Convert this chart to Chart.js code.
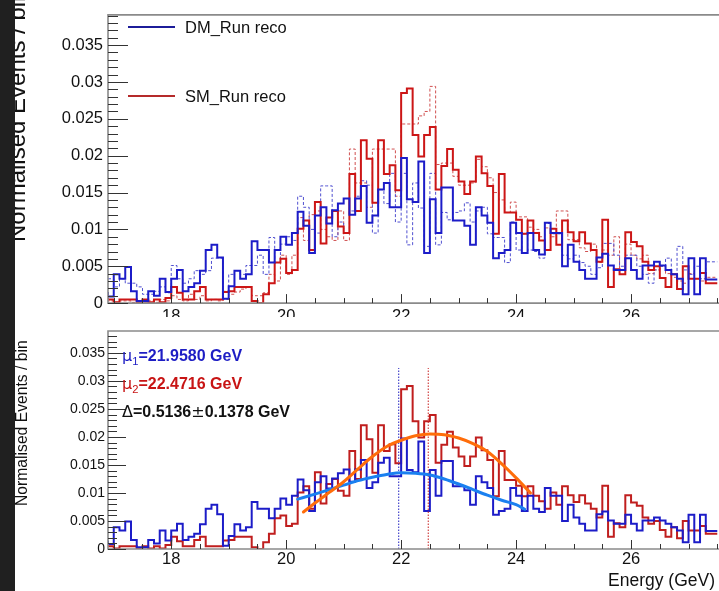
<!DOCTYPE html>
<html>
<head>
<meta charset="utf-8">
<script src="https://cdn.jsdelivr.net/npm/chart.js@4.4.1/dist/chart.umd.min.js"></script>
<style>
  html, body { margin: 0; padding: 0; background: #fff; overflow: hidden; }
  body { width: 719px; height: 591px; position: relative; font-family: "Liberation Sans", Arial, sans-serif; }
  canvas { position: absolute; left: 0; }
  #topChart { top: 0; }
  #bottomChart { top: 318px; }
  .txt { position: absolute; white-space: nowrap; line-height: 1; }
  .ytitle { position: absolute; white-space: nowrap; line-height: 1; transform-origin: left top; transform: rotate(-90deg); color: #111; }
  .legline { position: absolute; height: 2px; }
  .strip { position: absolute; left: 0; top: 0; width: 15px; height: 591px; background: #202020; }
  sub { font-size: 0.7em; font-weight: normal; vertical-align: -0.35em; }
  .mu { font-weight: normal; font-family: "DejaVu Sans", sans-serif; }
</style>
</head>
<body>
<canvas id="topChart" width="719" height="318"></canvas>
<canvas id="bottomChart" width="719" height="273"></canvas>

<div class="ytitle" style="left:5px; top:242px; font-size:24px;">Normalised Events / bin</div>
<div class="ytitle" style="left:14px; top:506px; font-size:15.7px;">Normalised Events / bin</div>
<div class="strip"></div>

<div class="legline" style="left:128px; top:26px; width:47px; background:#1c1c99;"></div>
<div class="txt" style="left:185px; top:19px; font-size:16.5px; color:#111;">DM_Run reco</div>
<div class="legline" style="left:128px; top:95px; width:47px; background:#b52a2a;"></div>
<div class="txt" style="left:185px; top:88px; font-size:16.5px; color:#111;">SM_Run reco</div>

<div class="txt" style="left:122px; top:348px; font-size:16px; font-weight:bold; color:#1d1dc4;"><span class="mu">μ</span><sub>1</sub>=21.9580 GeV</div>
<div class="txt" style="left:122px; top:376px; font-size:16px; font-weight:bold; color:#c81414;"><span class="mu">μ</span><sub>2</sub>=22.4716 GeV</div>
<div class="txt" style="left:122px; top:404px; font-size:16px; font-weight:bold; color:#111;"><span class="mu">Δ</span>=0.5136<span class="mu">±</span>0.1378 GeV</div>
<div class="txt" style="right:4px; top:572px; font-size:17.5px; color:#111;">Energy (GeV)</div>

<script>
// Histogram binning (GeV)
const BIN_LOW = 16.9;
const BIN_WIDTH = 0.1;

// Axis ticks
const X_TICKS = [18, 20, 22, 24, 26];
const Y_TICKS = [0, 0.005, 0.01, 0.015, 0.02, 0.025, 0.03, 0.035];

// DM_Run reco (solid blue), one value per 0.1 GeV bin from 16.9 GeV
const DM_RECO = [
  0.0015, 0.0009, 0.0039, 0.0033, 0.0049, 0.0016, 0.0003, 0.0003, 0.0016, 0.0010,
  0.0033, 0.0015, 0.0033, 0.0045, 0.0016, 0.0022, 0.0027, 0.0044, 0.0072, 0.0079,
  0.0062, 0.0006, 0.0023, 0.0044, 0.0033, 0.0039, 0.0084, 0.0072, 0.0072, 0.0055,
  0.0072, 0.0090, 0.0079, 0.0095, 0.0124, 0.0105, 0.0068, 0.0119, 0.0130, 0.0108,
  0.0126, 0.0135, 0.0142, 0.0120, 0.0142, 0.0159, 0.0109, 0.0119, 0.0154, 0.0163,
  0.0130, 0.0130, 0.0197, 0.0141, 0.0137, 0.0192, 0.0068, 0.0141, 0.0095, 0.0157,
  0.0157, 0.0112, 0.0112, 0.0105, 0.0079, 0.0130, 0.0119, 0.0109, 0.0061, 0.0068,
  0.0072, 0.0109, 0.0095, 0.0068, 0.0095, 0.0072, 0.0066, 0.0109, 0.0095, 0.0095,
  0.0050, 0.0079, 0.0056, 0.0045, 0.0033, 0.0033, 0.0062, 0.0067, 0.0051, 0.0045,
  0.0045, 0.0061, 0.0045, 0.0033, 0.0051, 0.0051, 0.0056, 0.0051, 0.0045, 0.0039,
  0.0033, 0.0012, 0.0061, 0.0012, 0.0061, 0.0032
];

// SM_Run reco (solid red)
const SM_RECO = [
  0.0010, 0.0005, 0.0001, 0.0005, 0.0005, 0.0005, 0.0001, 0.0005, 0.0001, 0.0005,
  0.0001, 0.0007, 0.0022, 0.0014, 0.0005, 0.0005, 0.0016, 0.0022, 0.0005, 0.0005,
  0.0005, 0.0015, 0.0016, 0.0022, 0.0022, 0.0022, 0.0003, 0.0000, 0.0012, 0.0027,
  0.0055, 0.0060, 0.0041, 0.0045, 0.0101, 0.0112, 0.0072, 0.0137, 0.0081, 0.0116,
  0.0125, 0.0104, 0.0095, 0.0175, 0.0125, 0.0221, 0.0196, 0.0136, 0.0221, 0.0175,
  0.0187, 0.0153, 0.0285, 0.0291, 0.0228, 0.0199, 0.0228, 0.0239, 0.0154, 0.0186,
  0.0209, 0.0181, 0.0165, 0.0148, 0.0165, 0.0199, 0.0176, 0.0159, 0.0094, 0.0175,
  0.0123, 0.0123, 0.0113, 0.0094, 0.0112, 0.0095, 0.0085, 0.0072, 0.0101, 0.0079,
  0.0112, 0.0096, 0.0084, 0.0096, 0.0081, 0.0072, 0.0056, 0.0113, 0.0022, 0.0046,
  0.0039, 0.0096, 0.0083, 0.0077, 0.0056, 0.0045, 0.0050, 0.0034, 0.0022, 0.0039,
  0.0019, 0.0050, 0.0033, 0.0033, 0.0041, 0.0027
];

// DM (dashed blue)
const DM_DASHED = [
  0.0033, 0.0033, 0.0022, 0.0033, 0.0027, 0.0027, 0.0022, 0.0012, 0.0012, 0.0016,
  0.0022, 0.0014, 0.0051, 0.0033, 0.0027, 0.0033, 0.0044, 0.0039, 0.0044, 0.0061,
  0.0061, 0.0016, 0.0039, 0.0044, 0.0039, 0.0051, 0.0051, 0.0065, 0.0039, 0.0089,
  0.0055, 0.0080, 0.0090, 0.0085, 0.0145, 0.0130, 0.0100, 0.0095, 0.0159, 0.0159,
  0.0090, 0.0110, 0.0095, 0.0125, 0.0145, 0.0166, 0.0160, 0.0095, 0.0154, 0.0135,
  0.0176, 0.0110, 0.0176, 0.0079, 0.0163, 0.0129, 0.0077, 0.0176, 0.0079, 0.0123,
  0.0113, 0.0123, 0.0125, 0.0136, 0.0110, 0.0125, 0.0130, 0.0094, 0.0089, 0.0089,
  0.0055, 0.0110, 0.0072, 0.0094, 0.0072, 0.0070, 0.0061, 0.0108, 0.0094, 0.0094,
  0.0065, 0.0060, 0.0065, 0.0055, 0.0050, 0.0039, 0.0048, 0.0081, 0.0081, 0.0065,
  0.0050, 0.0065, 0.0065, 0.0050, 0.0039, 0.0027, 0.0045, 0.0050, 0.0061, 0.0039,
  0.0077, 0.0045, 0.0039, 0.0050, 0.0033, 0.0056
];

// SM (dashed red)
const SM_DASHED = [
  0.0005, 0.0003, 0.0001, 0.0003, 0.0003, 0.0001, 0.0003, 0.0001, 0.0003, 0.0001,
  0.0005, 0.0003, 0.0010, 0.0005, 0.0003, 0.0012, 0.0005, 0.0010, 0.0003, 0.0005,
  0.0003, 0.0005, 0.0012, 0.0015, 0.0019, 0.0022, 0.0010, 0.0010, 0.0014, 0.0039,
  0.0030, 0.0065, 0.0039, 0.0065, 0.0116, 0.0085, 0.0120, 0.0125, 0.0100, 0.0090,
  0.0085, 0.0125, 0.0085, 0.0209, 0.0163, 0.0163, 0.0130, 0.0209, 0.0209, 0.0209,
  0.0209, 0.0145, 0.0243, 0.0243, 0.0243, 0.0254, 0.0260, 0.0294, 0.0188, 0.0190,
  0.0190, 0.0172, 0.0160, 0.0160, 0.0163, 0.0195, 0.0185, 0.0170, 0.0150, 0.0140,
  0.0123, 0.0137, 0.0117, 0.0117, 0.0103, 0.0100, 0.0090, 0.0102, 0.0090, 0.0125,
  0.0125, 0.0086, 0.0086, 0.0075, 0.0070, 0.0080, 0.0055, 0.0072, 0.0065, 0.0090,
  0.0045, 0.0080, 0.0065, 0.0060, 0.0065, 0.0040, 0.0045, 0.0050, 0.0040, 0.0035,
  0.0030, 0.0027, 0.0040, 0.0033, 0.0030, 0.0035
];

// Gaussian fit curves (GeV, value)
const FIT_SM_X = [20.3, 20.5, 20.75, 21.0, 21.25, 21.5, 21.75, 22.0, 22.25, 22.5, 22.75, 23.0, 23.25, 23.5, 23.75, 24.0, 24.25];
const FIT_SM_Y = [0.0066, 0.0082, 0.0101, 0.0120, 0.0143, 0.0165, 0.0183, 0.0194, 0.0202, 0.0205, 0.0204, 0.0198, 0.0188, 0.0174, 0.0152, 0.0127, 0.0100];
const FIT_DM_X = [20.2, 20.5, 20.75, 21.0, 21.25, 21.5, 21.75, 22.0, 22.25, 22.5, 22.75, 23.0, 23.25, 23.5, 23.75, 24.0, 24.15];
const FIT_DM_Y = [0.0089, 0.0098, 0.0106, 0.0114, 0.0122, 0.0128, 0.0133, 0.0136, 0.0135, 0.0132, 0.0125, 0.0116, 0.0106, 0.0096, 0.0087, 0.0079, 0.0071];

// fitted means and height of the marker lines
const MU_DM = 21.9580;
const MU_SM = 22.4716;
const MU_LINE_TOP = 0.0323;

const BLUE = '#1c1cc8';
const RED = '#cc1616';

function stepPoints(values) {
    const pts = values.map((v, i) => ({ x: BIN_LOW + i * BIN_WIDTH, y: v }));
    pts.push({ x: BIN_LOW + values.length * BIN_WIDTH, y: values[values.length - 1] });
    return pts;
}

function histo(values, color, width, dash) {
    return {
        data: stepPoints(values),
        borderColor: color,
        borderWidth: width,
        borderDash: dash || [],
        stepped: 'after',
        pointRadius: 0,
        fill: false
    };
}

function curve(xs, ys, color) {
    return {
        data: xs.map((x, i) => ({ x: x, y: ys[i] })),
        borderColor: color,
        borderWidth: 3,
        cubicInterpolationMode: 'monotone',
        borderCapStyle: 'round',
        pointRadius: 0,
        fill: false
    };
}

function vline(x, color) {
    return {
        data: [{ x: x, y: 0 }, { x: x, y: MU_LINE_TOP }],
        borderColor: color,
        borderWidth: 1,
        borderDash: [1.5, 1.5],
        pointRadius: 0,
        fill: false
    };
}

// ROOT style frame: axis lines plus ticks pointing into the pad
const rootFrame = {
    id: 'rootFrame',
    beforeDraw(chart) {
        const { ctx, width, height } = chart;
        ctx.save();
        ctx.fillStyle = '#fff';
        ctx.fillRect(0, 0, width, height);
        ctx.restore();
    },
    afterDraw(chart, args, opts) {
        const { ctx, chartArea: a, scales } = chart;
        const x = scales.x, y = scales.y;
        ctx.save();
        ctx.strokeStyle = '#8a8a8a';
        ctx.lineWidth = 1.6;
        ctx.beginPath();
        ctx.moveTo(a.right + 2, a.top);
        ctx.lineTo(a.left, a.top);
        ctx.lineTo(a.left, a.bottom);
        ctx.lineTo(a.right + 2, a.bottom);
        ctx.stroke();

        ctx.strokeStyle = '#333';
        ctx.lineWidth = 1;
        // y ticks every 0.001, long ones every 0.005
        for (let k = 0; k * 0.001 <= y.max + 1e-9; k++) {
            const py = Math.round(y.getPixelForValue(k * 0.001)) + 0.5;
            const len = (k % 5 === 0) ? opts.yMajor : opts.yMinor;
            ctx.beginPath();
            ctx.moveTo(a.left, py);
            ctx.lineTo(a.left + len, py);
            ctx.stroke();
        }
        // x ticks every 0.5 GeV, long ones every 2 GeV
        for (let k = 34; k * 0.5 <= x.max; k++) {
            const v = k * 0.5;
            if (v < x.min) continue;
            const px = Math.round(x.getPixelForValue(v)) + 0.5;
            const len = (k % 4 === 0) ? opts.xMajor : opts.xMinor;
            ctx.beginPath();
            ctx.moveTo(px, a.bottom);
            ctx.lineTo(px, a.bottom - len);
            ctx.stroke();
        }
        ctx.restore();
    }
};

function makeOptions(cfg) {
    return {
        responsive: false,
        animation: false,
        events: [],
        layout: { padding: { left: 0, right: 0, top: cfg.padTop, bottom: 0 } },
        plugins: {
            legend: { display: false },
            tooltip: { enabled: false },
            rootFrame: { yMajor: cfg.yMajor, yMinor: cfg.yMinor, xMajor: 9, xMinor: 5 }
        },
        scales: {
            x: {
                type: 'linear',
                min: BIN_LOW,
                max: 27.53,
                afterBuildTicks: (s) => { s.ticks = X_TICKS.map(v => ({ value: v })); },
                afterFit: (s) => { s.height = cfg.xHeight; },
                grid: { display: false, drawTicks: false },
                border: { display: false },
                ticks: {
                    color: '#111',
                    padding: cfg.xPad,
                    maxRotation: 0,
                    font: { family: 'Liberation Sans', size: cfg.xFont },
                    callback: (v) => String(v)
                }
            },
            y: {
                type: 'linear',
                min: 0,
                max: cfg.yMax,
                afterBuildTicks: (s) => { s.ticks = Y_TICKS.map(v => ({ value: v })); },
                afterFit: (s) => { s.width = 108; },
                grid: { display: false, drawTicks: false },
                border: { display: false },
                ticks: {
                    color: '#111',
                    padding: cfg.yPad,
                    font: { family: 'Liberation Sans', size: cfg.yFont },
                    callback: (v) => String(+v.toFixed(3))
                }
            }
        }
    };
}

new Chart(document.getElementById('topChart'), {
    type: 'line',
    data: {
        datasets: [
            histo(DM_RECO, BLUE, 2),
            histo(SM_RECO, RED, 2),
            histo(DM_DASHED, '#5050d0', 1, [3, 2]),
            histo(SM_DASHED, '#d05050', 1, [3, 2])
        ]
    },
    options: makeOptions({ padTop: 10, xHeight: 14, xPad: 3, xFont: 16.5, yMax: 0.0391, yPad: 5, yFont: 16.5, yMajor: 20, yMinor: 10 }),
    plugins: [rootFrame]
});

new Chart(document.getElementById('bottomChart'), {
    type: 'line',
    data: {
        datasets: [
            curve(FIT_SM_X, FIT_SM_Y, '#ff6d0a'),
            curve(FIT_DM_X, FIT_DM_Y, '#1a80f0'),
            vline(MU_DM, '#2020c0'),
            vline(MU_SM, '#c82020'),
            histo(DM_RECO, BLUE, 2),
            histo(SM_RECO, '#c01e1e', 2)
        ]
    },
    options: makeOptions({ padTop: 13, xHeight: 42, xPad: 1, xFont: 16.5, yMax: 0.0389, yPad: 3, yFont: 14, yMajor: 18, yMinor: 9 }),
    plugins: [rootFrame]
});
</script>
</body>
</html>
